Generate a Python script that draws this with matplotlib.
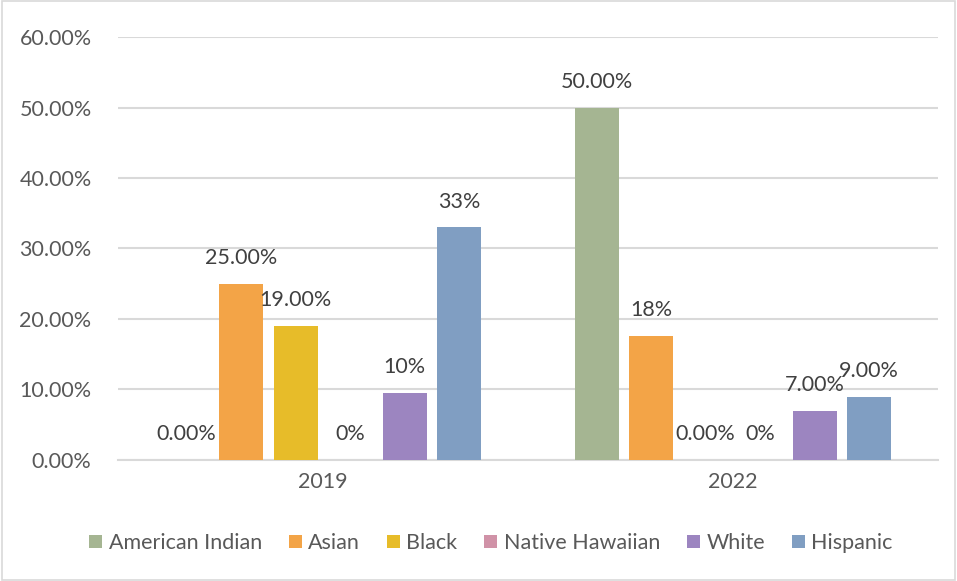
import numpy as np
import matplotlib.pyplot as plt
from matplotlib.patches import Rectangle

# DATA
years = ['2019', '2022']
races = ['American Indian', 'Asian', 'Black', 'Native Hawaiian', 'White', 'Hispanic']
values = [
    [0.0, 50.0],    # American Indian
    [25.0, 17.6],   # Asian
    [19.0, 0.0],    # Black
    [0.0, 0.0],     # Native Hawaiian
    [9.5, 7.0],     # White
    [33.0, 9.0],    # Hispanic
]
bar_labels = [
    ['0.00%', '50.00%'],
    ['25.00%', '18%'],
    ['19.00%', '0.00%'],
    ['0%', '0%'],
    ['10%', '7.00%'],
    ['33%', '9.00%'],
]
colors = ['#A5B592', '#F3A447', '#E7BC29', '#D092A7', '#9C85C0', '#809EC2']

plt.rcParams['font.family'] = ['Lato', 'DejaVu Sans']
txt = '#595959'
fs = 15.5

fig = plt.figure(figsize=(9.57, 5.81), dpi=100)
fig.patches.append(Rectangle((0.002, 0.002), 0.996, 0.996, transform=fig.transFigure,
                             fill=False, edgecolor='#D9D9D9', linewidth=1.2))
ax = fig.add_axes([0.1233, 0.2083, 0.8567, 0.728])

x = np.arange(len(years))
step = 0.133
width = 0.107
for i, race in enumerate(races):
    pos = x + (i - 2.5) * step
    bars = ax.bar(pos, values[i], width, color=colors[i], label=race, zorder=3)
    for b, lab in zip(bars, bar_labels[i]):
        ax.annotate(lab, (b.get_x() + b.get_width() / 2, b.get_height()),
                    xytext=(0, 18.5), textcoords='offset points',
                    ha='center', va='center', fontsize=fs, color='#404040')

ax.set_xlim(-0.5, 1.5)
ax.set_ylim(0, 60)
ax.set_yticks(np.arange(0, 61, 10))
ax.set_yticklabels(['%.2f%%' % v for v in np.arange(0, 61, 10)])
ax.set_xticks(x)
ax.set_xticklabels(years)
ax.tick_params(axis='both', length=0, labelsize=fs, labelcolor=txt)
ax.tick_params(axis='y', pad=19)
ax.tick_params(axis='x', pad=9)
ax.grid(axis='y', color='#D9D9D9', linewidth=1.5, zorder=0)
for s in ['top', 'right', 'left']:
    ax.spines[s].set_visible(False)
ax.spines['bottom'].set_color('#D9D9D9')
ax.spines['bottom'].set_linewidth(1.5)

leg = fig.legend(loc='center', bbox_to_anchor=(0.513, 0.065), ncol=6, frameon=False,
                 fontsize=fs, handlelength=0.6, handleheight=0.6, handletextpad=0.3,
                 columnspacing=1.25)
for t in leg.get_texts():
    t.set_color(txt)

fig.savefig('out.png', dpi=100)
